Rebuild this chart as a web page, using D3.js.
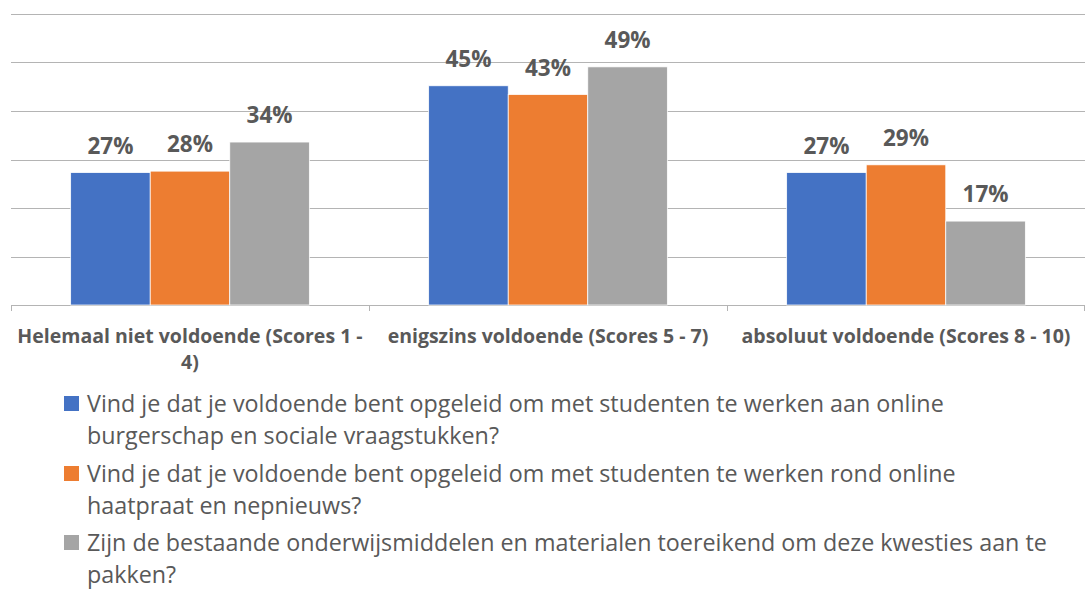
<!DOCTYPE html>
<html>
<head>
<meta charset="utf-8">
<script src="https://cdn.jsdelivr.net/npm/d3@7"></script>
<style>
  body { margin: 0; background: #fff; }
  svg { display: block; font-family: "Open Sans", sans-serif; }
</style>
</head>
<body>
<div id="chart"></div>
<script>
// data
var categories = ["Helemaal niet voldoende (Scores 1 - 4)", "enigszins voldoende (Scores 5 - 7)", "absoluut voldoende (Scores 8 - 10)"];
var seriesNames = [
    "Vind je dat je voldoende bent opgeleid om met studenten te werken aan online\nburgerschap en sociale vraagstukken?",
    "Vind je dat je voldoende bent opgeleid om met studenten te werken rond online\nhaatpraat en nepnieuws?",
    "Zijn de bestaande onderwijsmiddelen en materialen toereikend om deze kwesties aan te\npakken?"
];
var opgeleidOnline = [27.3, 45.2, 27.3];
var opgeleidHaat = [27.6, 43.4, 28.9];
var middelen = [33.6, 49.1, 17.3];
var yTicks = [0, 10, 20, 30, 40, 50, 60];
var colors = ["#4472C4", "#ED7D31", "#A5A5A5"];

var seriesValues = [opgeleidOnline, opgeleidHaat, middelen];

// svg container
var svgWidth = 1085, svgHeight = 594;
var margin = { top: 14, left: 11, right: 0 };
var chartHeight = 305 - margin.top;
var chartWidth = svgWidth - margin.left - margin.right;

var svg = d3.select("#chart").append("svg")
    .attr("width", svgWidth)
    .attr("height", svgHeight);

var chartGroup = svg.append("g")
    .attr("transform", `translate(${margin.left}, ${margin.top})`);

var yScale = d3.scaleLinear()
    .domain([0, 60])
    .range([chartHeight, 0]);

var xScale = d3.scaleBand()
    .domain(categories)
    .range([0, chartWidth]);

var xInner = d3.scaleBand()
    .domain(d3.range(seriesValues.length))
    .range([0, xScale.bandwidth()])
    .paddingOuter(0.75)  // about a 150% gap like excel
    .paddingInner(0);

// gridlines
chartGroup.append("g")
    .selectAll("line")
    .data(yTicks)
    .enter()
    .append("line")
    .attr("x1", 0)
    .attr("x2", chartWidth)
    .attr("y1", d => Math.round(yScale(d)) + 0.5)
    .attr("y2", d => Math.round(yScale(d)) + 0.5)
    .attr("stroke", "#B4B4B4")
    .attr("stroke-width", 1);

// category boundary ticks
var bounds = categories.map(c => xScale(c)).concat([chartWidth - 1]);
chartGroup.append("g")
    .selectAll("line")
    .data(bounds)
    .enter()
    .append("line")
    .attr("x1", d => Math.round(d) + 0.5)
    .attr("x2", d => Math.round(d) + 0.5)
    .attr("y1", chartHeight)
    .attr("y2", chartHeight + 6)
    .attr("stroke", "#B4B4B4");

// bars
var rows = [];
categories.forEach((c, i) => {
    seriesValues.forEach((s, j) => rows.push({ cat: c, s: j, v: s[i] }));
});

chartGroup.selectAll(".bar")
    .data(rows)
    .enter()
    .append("rect")
    .attr("class", "bar")
    .attr("x", d => xScale(d.cat) + xInner(d.s))
    .attr("y", d => yScale(d.v))
    .attr("width", xInner.bandwidth())
    .attr("height", d => chartHeight - yScale(d.v))
    .attr("fill", d => colors[d.s])
    .attr("stroke", "#fff")
    .attr("stroke-width", 0.75);

// value labels
chartGroup.selectAll(".val")
    .data(rows)
    .enter()
    .append("text")
    .attr("class", "val")
    .attr("x", d => xScale(d.cat) + xInner(d.s) + xInner.bandwidth() / 2)
    .attr("y", d => yScale(d.v) - 19)
    .attr("text-anchor", "middle")
    .attr("font-size", 22.5)
    .attr("font-weight", "bold")
    .attr("fill", "#595959")
    .text(d => Math.round(d.v) + "%");

// category labels, wrapped (excel lets them run a little past the band)
var wrapWidth = xScale.bandwidth() + 2;
var catLabels = chartGroup.selectAll(".cat")
    .data(categories)
    .enter()
    .append("text")
    .attr("class", "cat")
    .attr("x", d => xScale(d) + xScale.bandwidth() / 2)
    .attr("y", chartHeight + 38)
    .attr("text-anchor", "middle")
    .attr("font-size", 19.5)
    .attr("font-weight", "bold")
    .attr("fill", "#595959");

catLabels.each(function(d) {
    var t = d3.select(this);
    var words = d.split(" ");
    var line = [];
    var tspan = t.append("tspan").attr("x", t.attr("x")).attr("dy", 0);
    words.forEach(w => {
        line.push(w);
        tspan.text(line.join(" "));
        if (tspan.node().getComputedTextLength() > wrapWidth && line.length > 1) {
            line.pop();
            tspan.text(line.join(" "));
            line = [w];
            tspan = t.append("tspan").attr("x", t.attr("x")).attr("dy", 26).text(w);
        }
    });
});

// legend
var legend = svg.append("g")
    .attr("transform", "translate(64, 0)");

var legendY = [412, 482, 551];
seriesNames.forEach((name, i) => {
    var g = legend.append("g").attr("transform", `translate(0, ${legendY[i]})`);
    g.append("rect")
        .attr("x", 0)
        .attr("y", -16)
        .attr("width", 15)
        .attr("height", 15)
        .attr("fill", colors[i]);
    var txt = g.append("text")
        .attr("x", 23)
        .attr("y", 0)
        .attr("font-size", 23.3)
        .attr("fill", "#595959");
    name.split("\n").forEach((ln, k) => {
        txt.append("tspan")
            .attr("x", 23)
            .attr("dy", k === 0 ? 0 : 31.5)
            .text(ln);
    });
});
</script>
</body>
</html>
